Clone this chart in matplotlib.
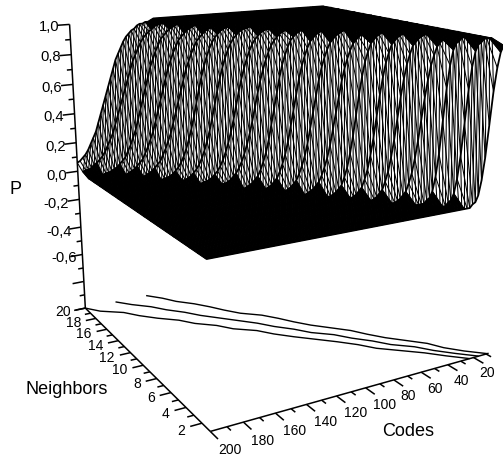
import numpy as np
import matplotlib
matplotlib.use("Agg")
import matplotlib.pyplot as plt
from mpl_toolkits.mplot3d.art3d import Line3DCollection, Poly3DCollection

plt.rcParams['font.family'] = ['Liberation Sans', 'DejaVu Sans']

W, H = 503, 456

# --- data -------------------------------------------------------------------
codes = np.arange(8, 201, 2)
neighbors = list(range(1, 21))
# code at which P passes one half, for each neighbours value
center_code = [16, 26, 34, 42, 52, 60, 68, 76, 86, 94, 102, 110, 118, 128, 136, 144, 152, 160, 170, 178]
# which rise profile each neighbours row follows
profile_of_row = ['z', 'z', 'z', 'a', 'a', 'a', 'a', 'b', 'b', 'b', 'b', 'c', 'c', 'c', 'c', 'd', 'd', 'd', 'e', 'e']
# P at successive codes, stepping down two codes at a time, across the rise
rise_z = [.02, .03, .07, .16, .30, .5, .70, .84, .93, .97, .98]
rise_a = [.01, .02, .04, .06, .11, .17, .26, .37, .5, .63, .74, .83, .89, .94, .96, .98, .99]
rise_b = [.01, .02, .03, .05, .07, .11, .16, .22, .30, .40, .5, .60, .70, .78, .84, .89, .93, .95, .97, .98, .99]
rise_c = [.01, .02, .02, .03, .04, .06, .08, .11, .15, .20, .26, .33, .41, .5, .59, .67, .74, .80, .85, .89, .92,
          .94, .96, .97, .98, .98, .99]
rise_d = [.01, .02, .02, .03, .04, .05, .07, .09, .11, .15, .19, .24, .29, .36, .43, .5, .57, .64, .71, .76, .81,
          .85, .89, .91, .93, .95, .96, .97, .98, .98, .99]
rise_e = [.01, .02, .02, .03, .03, .04, .06, .07, .09, .11, .14, .18, .22, .26, .32, .38, .44, .5, .56, .62, .68,
          .74, .78, .82, .86, .89, .91, .93, .94, .96, .97, .97, .98, .98, .99]
rises = {'z': rise_z, 'a': rise_a, 'b': rise_b, 'c': rise_c, 'd': rise_d, 'e': rise_e}
# contour lines on the floor: code reached at each neighbours value
contour_low = [23, 33, 42, 53, 64, 71, 80, 90, 100, 109, 116, 128, 135, 146, 153, 164, 173, 180, 193, 200]
contour_mid = [16, 26, 35, 42, 53, 60, 69, 76, 87, 94, 103, 110, 119, 128, 137, 144, 153, 160, 170, 178]
contour_high = [9, 19, 27, 32, 41, 50, 57, 63, 72, 81, 88, 94, 101, 112, 119, 125, 132, 141, 147, 155]

p_ticks = [-1.0, -0.8, -0.6, -0.4, -0.2, 0.0, 0.2, 0.4, 0.6, 0.8, 1.0]
n_ticks = [2, 4, 6, 8, 10, 12, 14, 16, 18, 20]
c_ticks = [20, 40, 60, 80, 100, 120, 140, 160, 180, 200]

# tick texts and the image positions of their centres
p_labels = ['-0,6', '-0,4', '-0,2', '0,0', '0,2', '0,4', '0,6', '0,8', '1,0']
p_label_x = [64, 59, 56, 57, 56, 54, 52, 51, 49]
p_label_y = [258, 232, 204, 176, 147, 117, 88, 57, 27]
n_label_x = [181, 165, 151, 137, 120, 107, 96, 84, 74, 63]
n_label_y = [431, 414, 398, 384, 370, 358, 346, 334, 323, 312]
c_label_x = [487, 461, 435, 408, 385, 356, 326, 295, 263, 230]
c_label_y = [373, 381, 389, 396, 405, 413, 422, 431, 441, 450]

# camera: box positions (code, neighbours, P) and where they fall in the image
cam_box = [(200, 20, -1), (200, 20, 0), (200, 20, 1), (200, 1, -1), (200, 1, 0), (8, 1, -1), (8, 1, 1), (8, 20, 1),
           (100, 1, -1), (180, 1, -1), (40, 1, -1), (200, 20, .6), (200, 20, -.6), (200, 10, -1)]
cam_img = [(85, 308), (77.5, 173), (69.5, 25), (210, 433), (207, 260), (490, 353), (503, 40), (325, 8),
           (363, 390), (245, 423), (447, 367), (72.5, 86), (81.5, 255), (145, 366)]

# --- surface table ----------------------------------------------------------
P = np.zeros((len(neighbors), len(codes)))
for i, (mid, name) in enumerate(zip(center_code, profile_of_row)):
    rise = rises[name]
    half = len(rise) // 2
    for j, c in enumerate(codes):
        k = (mid - c) // 2 + half
        P[i, j] = 0 if k < 0 else (1 if k >= len(rise) else rise[k])

# --- camera matrix ----------------------------------------------------------
rows = []
for (x, y, z), (u, v) in zip(cam_box, cam_img):
    x, y = x / 100, y / 10
    rows.append([x, y, z, 1, 0, 0, 0, 0, -u * x, -u * y, -u * z, -u])
    rows.append([0, 0, 0, 0, x, y, z, 1, -v * x, -v * y, -v * z, -v])
cam = np.linalg.svd(np.array(rows, float))[2][-1].reshape(3, 4)
cam = cam @ np.diag([.01, .1, 1, 1])

dpi = 100
fig = plt.figure(figsize=(W / dpi, H / dpi), dpi=dpi)
ax = fig.add_axes([0, 0, 1, 1], projection='3d')
ax.set_axis_off()
ax.apply_aspect = lambda position=None: None
vx0, vx1 = ax.viewLim.x0, ax.viewLim.x1
vy0, vy1 = ax.viewLim.y0, ax.viewLim.y1
row_x = vx0 * cam[2] + (vx1 - vx0) / W * cam[0]
row_y = vy1 * cam[2] - (vy1 - vy0) / H * cam[1]
row_w = cam[2]
row_z = np.linalg.svd(np.array([row_x, row_y, row_w]))[2][-1]
M = np.array([row_x, row_y, row_z, row_w])
ax.get_proj = lambda: M


def add_lines(segs, lw):
    ax.add_collection3d(Line3DCollection(segs, colors='black', linewidths=lw), autolim=False)


def image_text(x, y, s, fs):
    fig.text(x / W, 1 - y / H, s, ha='center', va='center', fontsize=fs)


# --- the flat parts of the surface read as solid black --------------------------
flat = []
for i in range(len(neighbors) - 1):
    for j in range(len(codes) - 1):
        corners = [P[i, j], P[i + 1, j], P[i + 1, j + 1], P[i, j + 1]]
        if np.mean(corners) <= .04 or np.mean(corners) >= .96:
            flat.append([(codes[j], neighbors[i], P[i, j]), (codes[j], neighbors[i + 1], P[i + 1, j]),
                         (codes[j + 1], neighbors[i + 1], P[i + 1, j + 1]), (codes[j + 1], neighbors[i], P[i, j + 1])])
ax.add_collection3d(Poly3DCollection(flat, facecolors='black', edgecolors='black', linewidths=0.4), autolim=False)

# --- surface mesh -----------------------------------------------------------
segs = [np.column_stack([codes, np.full(len(codes), n), P[i]]) for i, n in enumerate(neighbors)]
add_lines(segs, 1.3)
segs = [np.column_stack([np.full(len(neighbors), c), neighbors, P[:, j]]) for j, c in enumerate(codes)]
add_lines(segs, 0.75)
# second line family of the lattice: each code point to a code three steps lower on the next row
segs = []
for i in range(len(neighbors) - 1):
    for j in range(3, len(codes)):
        segs.append([(codes[j], neighbors[i], P[i, j]), (codes[j - 3], neighbors[i + 1], P[i + 1, j - 3])])
add_lines(segs, 0.75)

# --- floor contours ---------------------------------------------------------
for line in (contour_low, contour_mid, contour_high):
    add_lines([np.column_stack([line, neighbors, np.full(20, -1.0)])], 1.0)

# --- axes -------------------------------------------------------------------
axis_lw = 1.1
add_lines([[(200, 20, -1), (200, 20, 1)], [(200, 20, -1), (200, 1, -1)], [(200, 1, -1), (8, 1, -1)]], axis_lw)

segs = []
for v in p_ticks:
    segs.append([(200, 20, v), (208, 20, v)])
for v in p_ticks[:-1]:
    segs.append([(200, 20, v + .1), (203.5, 20, v + .1)])
for n in n_ticks:
    segs.append([(200, n, -1), (207, n, -1)])
for n in n_ticks[:-1]:
    segs.append([(200, n + 1, -1), (204, n + 1, -1)])
for c in c_ticks:
    segs.append([(c, 1, -1), (c, 0.1, -1)])
    segs.append([(c - 10, 1, -1), (c - 10, 0.55, -1)])
add_lines(segs, axis_lw)

for s, x, y in zip(p_labels, p_label_x, p_label_y):
    image_text(x, y, s, 10.6)
for n, x, y in zip(n_ticks, n_label_x, n_label_y):
    image_text(x, y, str(n), 10)
for c, x, y in zip(c_ticks, c_label_x, c_label_y):
    image_text(x, y, str(c), 10)

image_text(16, 190, 'P', 13)
image_text(67, 390, 'Neighbors', 13)
image_text(408, 432, 'Codes', 13)

fig.savefig('out.png', dpi=dpi)
